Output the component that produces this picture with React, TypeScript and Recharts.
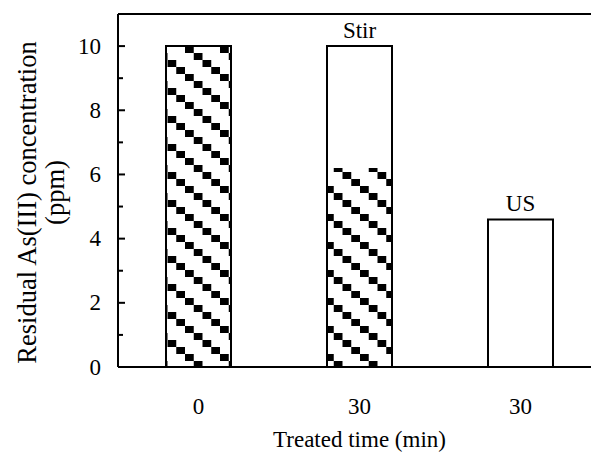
import { BarChart, Bar, XAxis, YAxis, ReferenceLine, LabelList, Label } from 'recharts';

const categories = ['0', '30', '30'];
const treatments = ['', 'Stir', 'US'];
const patternedLevel = [10, 6.2, 0];
const totalLevel = [10, 10, 4.6];
const yTicks = [0, 1, 2, 3, 4, 5, 6, 7, 8, 9, 10];
const yLabelEvery = 2;

const data = categories.map((name, i) => ({
  name,
  patterned: patternedLevel[i],
  total: totalLevel[i],
  label: treatments[i],
}));

const FONT = 'Liberation Serif';
const FS = 23;
const txt = { fontFamily: FONT, fontSize: FS, fill: '#000' };
const ytxt = { ...txt, fontSize: 26.5 };

const YTick = (props: any) => {
  const { x, y, payload } = props;
  const v = Number(payload.value);
  const major = v % yLabelEvery === 0;
  return (
    <g>
      <line x1={x} x2={x + (major ? 7 : 5)} y1={y} y2={y} stroke="#000" strokeWidth={2} />
      {major && (
        <text x={x - 17} y={y} textAnchor="end" dominantBaseline="central" style={txt}>
          {v}
        </text>
      )}
    </g>
  );
};

const XTick = (props: any) => {
  const { x, y, payload } = props;
  return (
    <text x={x} y={y + 39} textAnchor="middle" dominantBaseline="central" style={txt}>
      {payload.value}
    </text>
  );
};

const YTitle = (props: any) => {
  const { viewBox } = props;
  const cy = viewBox.y + viewBox.height / 2;
  return (
    <g>
      <text x={27} y={cy + 12} textAnchor="middle" dominantBaseline="central" style={ytxt}
        transform={`rotate(-90 27 ${cy + 12})`}>
        Residual As(III) concentration
      </text>
      <text x={55} y={cy + 2} textAnchor="middle" dominantBaseline="central" style={ytxt}
        transform={`rotate(-90 55 ${cy + 2})`}>
        (ppm)
      </text>
    </g>
  );
};

const XTitle = (props: any) => {
  const { viewBox } = props;
  return (
    <text x={viewBox.x + viewBox.width / 2} y={viewBox.y + 72} textAnchor="middle"
      dominantBaseline="central" style={txt}>
      Treated time (min)
    </text>
  );
};

const BarLabel = (props: any) => {
  const { x, y, width, value } = props;
  return (
    <text x={x + width / 2} y={y - 8} textAnchor="middle" style={txt}>
      {value}
    </text>
  );
};

export default function App() {
  return (
    <div style={{
      position: 'absolute', left: 0, top: 0, width: 591, height: 455,
      overflow: 'hidden', background: '#fff', fontFamily: FONT,
    }}>
      <BarChart width={620} height={455} data={data}
        margin={{ top: 14, right: 19, left: 0, bottom: 0 }}
        barSize={65} barGap={-65}>
        <defs>
          <pattern id="stairs" patternUnits="userSpaceOnUse" x={10} y={18} width={35} height={28}>
            <rect x={0} y={0} width={35} height={28} fill="#fff" />
            <rect x={0} y={0} width={8.75} height={7} fill="#000" />
            <rect x={8.75} y={7} width={8.75} height={7} fill="#000" />
            <rect x={17.5} y={14} width={8.75} height={7} fill="#000" />
            <rect x={26.25} y={21} width={8.75} height={7} fill="#000" />
          </pattern>
        </defs>
        <XAxis dataKey="name" height={88} axisLine={{ stroke: '#000', strokeWidth: 2 }}
          tickLine={false} tickSize={0} tickMargin={0} tick={<XTick />} interval={0}>
          <Label content={<XTitle />} />
        </XAxis>
        <YAxis width={118} domain={[0, 11]} ticks={yTicks} allowDataOverflow
          axisLine={{ stroke: '#000', strokeWidth: 2 }} tickLine={false}
          tickSize={0} tickMargin={0} tick={<YTick />} interval={0}>
          <Label content={<YTitle />} />
        </YAxis>
        <ReferenceLine y={11} stroke="#000" strokeWidth={2} />
        <Bar dataKey="patterned" fill="url(#stairs)" stroke="none" isAnimationActive={false} />
        <Bar dataKey="total" fill="none" stroke="#000" strokeWidth={2} isAnimationActive={false}>
          <LabelList dataKey="label" content={<BarLabel />} />
        </Bar>
      </BarChart>
    </div>
  );
}
